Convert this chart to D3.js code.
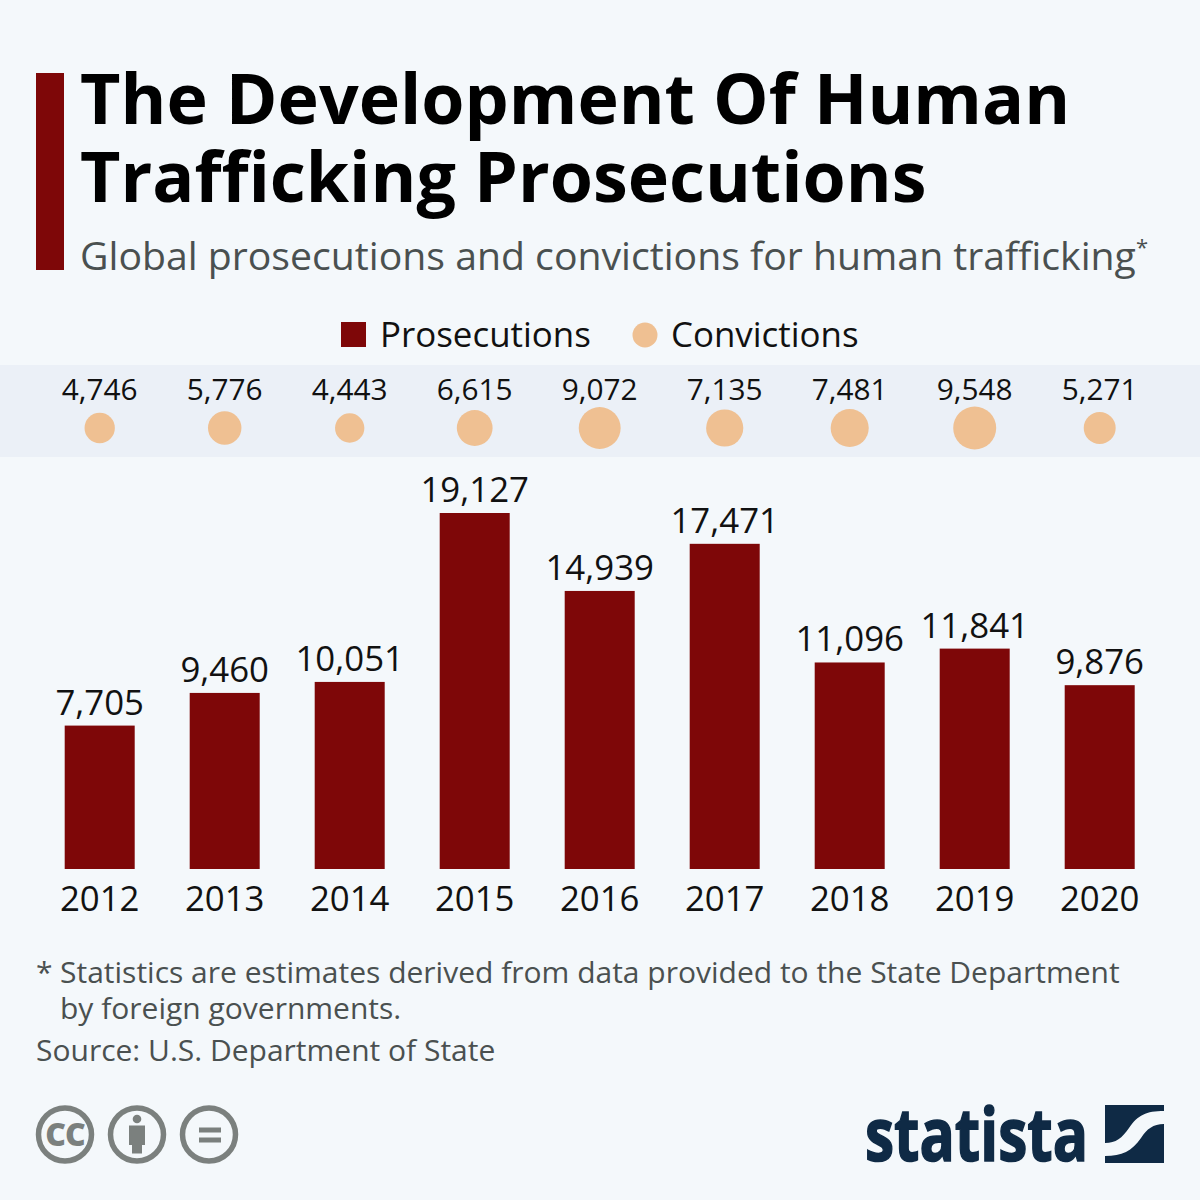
<!DOCTYPE html>
<html>
<head>
<meta charset="utf-8">
<script src="https://cdn.jsdelivr.net/npm/d3@7"></script>
<style>
  html, body { margin: 0; padding: 0; background: #f4f8fb; }
  text { font-family: "Open Sans", sans-serif; }
</style>
</head>
<body>
<div id="chart-area"></div>
<script>
const years = ["2012", "2013", "2014", "2015", "2016", "2017", "2018", "2019", "2020"]
const prosecutions = [7705, 9460, 10051, 19127, 14939, 17471, 11096, 11841, 9876]
const convictions = [4746, 5776, 4443, 6615, 9072, 7135, 7481, 9548, 5271]

const titleLines = ["The Development Of Human", "Trafficking Prosecutions"]
const subtitle = "Global prosecutions and convictions for human trafficking"
const noteLines = ["Statistics are estimates derived from data provided to the State Department", "by foreign governments."]
const source = "Source: U.S. Department of State"

const BG = "#f4f8fb", BAND = "#ebf0f7", RED = "#7e0708", PEACH = "#efc092", GREY = "#4a5050", ICON = "#7b807e", NAVY = "#0f2a45"
const fmt = d3.format(",")

const svg = d3.select("#chart-area").append("svg")
  .attr("width", 1200)
  .attr("height", 1200)
  .style("display", "block")

svg.append("rect").attr("width", 1200).attr("height", 1200).attr("fill", BG)

// Title block
svg.append("rect").attr("x", 36).attr("y", 73).attr("width", 28).attr("height", 197).attr("fill", RED)

svg.selectAll(".title").data(titleLines).enter().append("text")
  .attr("class", "title")
  .attr("x", 80)
  .attr("y", (d, i) => 124 + i * 78)
  .attr("font-size", "69.9px")
  .attr("font-weight", 700)
  .attr("fill", "#000")
  .text(d => d)

const sub = svg.append("text")
  .attr("x", 80)
  .attr("y", 270)
  .attr("font-size", "39.2px")
  .attr("fill", GREY)
sub.append("tspan").text(subtitle)
sub.append("tspan").attr("font-size", "22px").attr("dy", -15).text("*")

// Legend
svg.append("rect").attr("x", 341).attr("y", 322).attr("width", 25).attr("height", 25).attr("fill", RED)
svg.append("text").attr("x", 380).attr("y", 347).attr("font-size", "34.9px").attr("fill", "#111").text("Prosecutions")
svg.append("circle").attr("cx", 645).attr("cy", 335).attr("r", 12.5).attr("fill", PEACH)
svg.append("text").attr("x", 671).attr("y", 347).attr("font-size", "34.9px").attr("fill", "#111").text("Convictions")

// Convictions strip
svg.append("rect").attr("x", 0).attr("y", 365).attr("width", 1200).attr("height", 92).attr("fill", BAND)

const x = d3.scaleBand()
  .domain(years)
  .range([37.2, 1162.2])
  .paddingInner(0.44)
  .paddingOuter(0.22)

const y = d3.scaleLinear()
  .domain([0, 19127])
  .range([869, 513])

const r = d3.scaleSqrt()
  .domain([0, 9548])
  .range([0, 21.5])

const cx = d => x(d) + x.bandwidth() / 2

svg.selectAll(".dot").data(convictions).enter().append("circle")
  .attr("class", "dot")
  .attr("cx", (d, i) => cx(years[i]))
  .attr("cy", 428)
  .attr("r", d => r(d))
  .attr("fill", PEACH)

svg.selectAll(".dot-label").data(convictions).enter().append("text")
  .attr("class", "dot-label")
  .attr("x", (d, i) => cx(years[i]))
  .attr("y", 400)
  .attr("text-anchor", "middle")
  .attr("font-size", "29.8px")
  .attr("fill", "#111")
  .text(d => fmt(d))

// Bars
svg.selectAll(".bar").data(prosecutions).enter().append("rect")
  .attr("class", "bar")
  .attr("x", (d, i) => x(years[i]))
  .attr("y", d => y(d))
  .attr("width", x.bandwidth())
  .attr("height", d => y(0) - y(d))
  .attr("fill", RED)

svg.selectAll(".bar-label").data(prosecutions).enter().append("text")
  .attr("class", "bar-label")
  .attr("x", (d, i) => cx(years[i]))
  .attr("y", d => y(d) - 11)
  .attr("text-anchor", "middle")
  .attr("font-size", "34.8px")
  .attr("fill", "#111")
  .text(d => fmt(d))

const xAxisCall = d3.axisBottom(x).tickSize(0).tickPadding(0)
const xAxis = svg.append("g")
  .attr("class", "x axis")
  .attr("transform", "translate(0, 869)")
  .call(xAxisCall)
xAxis.select(".domain").remove()
xAxis.selectAll("text")
  .attr("y", 42)
  .attr("dy", null)
  .attr("font-size", "34.8px")
  .attr("font-family", "'Open Sans', sans-serif")
  .attr("fill", "#111")

// Footnotes
svg.append("text").attr("x", 36).attr("y", 983).attr("font-size", "30px").attr("fill", GREY).text("*")
svg.selectAll(".note").data(noteLines).enter().append("text")
  .attr("class", "note")
  .attr("x", 60)
  .attr("y", (d, i) => 983 + i * 36)
  .attr("font-size", "30px")
  .attr("fill", GREY)
  .text(d => d)
svg.append("text").attr("x", 36).attr("y", 1061).attr("font-size", "30px").attr("fill", GREY).text(source)

// Licence icons
const icons = [65, 137, 209]
svg.selectAll(".icon").data(icons).enter().append("circle")
  .attr("class", "icon")
  .attr("cx", d => d)
  .attr("cy", 1134.500)
  .attr("r", 26.5)
  .attr("fill", "none")
  .attr("stroke", ICON)
  .attr("stroke-width", 5.5)

svg.append("text").attr("x", 65).attr("y", 1146).attr("text-anchor", "middle")
  .attr("font-size", "32px").attr("font-weight", 800).attr("letter-spacing", "-1px").attr("fill", ICON).text("CC")

svg.append("circle").attr("cx", 137).attr("cy", 1119).attr("r", 4.3).attr("fill", ICON)
svg.append("path").attr("fill", ICON)
  .attr("d", "M129 1125.500H145V1145H142V1153.500H132V1145H129Z")

svg.append("rect").attr("x", 199).attr("y", 1127.500).attr("width", 22).attr("height", 5).attr("fill", ICON)
svg.append("rect").attr("x", 199).attr("y", 1137.500).attr("width", 22).attr("height", 5).attr("fill", ICON)

// Statista logo
svg.append("text")
  .attr("x", 865)
  .attr("y", 1161)
  .attr("font-size", "73px")
  .attr("font-weight", 700)
  .attr("fill", NAVY)
  .attr("stroke", NAVY)
  .attr("stroke-width", 1.6)
  .attr("textLength", 223)
  .attr("lengthAdjust", "spacingAndGlyphs")
  .style("font-family", "'Liberation Sans Narrow', 'Open Sans', sans-serif")
  .text("statista")

svg.append("path").attr("fill", NAVY)
  .attr("d", "M1105 1105H1164V1111C1146 1111 1138 1115 1129 1128C1122 1138 1116 1143 1105 1143Z")
svg.append("path").attr("fill", NAVY)
  .attr("d", "M1164 1124V1163H1105V1156C1122 1156 1132 1151 1141 1138C1147 1129 1153 1124 1164 1124Z")
</script>
</body>
</html>
